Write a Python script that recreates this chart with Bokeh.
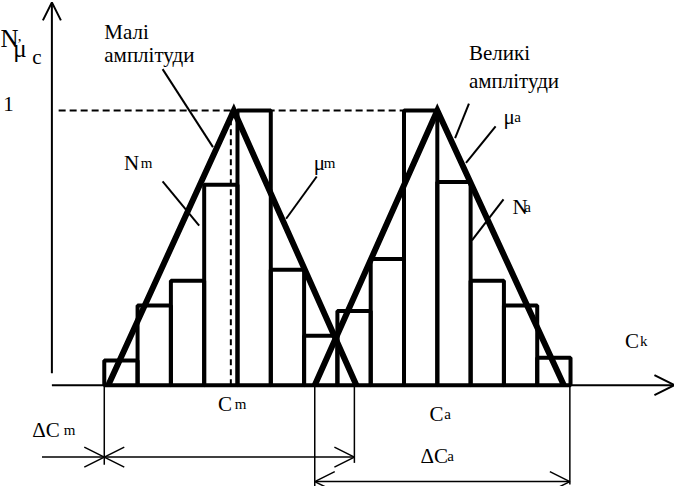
from bokeh.plotting import figure
from bokeh.models import Range1d, Arrow, OpenHead
from bokeh.embed import file_html
from bokeh.resources import INLINE
from bokeh.core.properties import value

# ---- data (x: class-interval units, y: relative frequency / membership) ----
bins_m = [0, 1, 2, 3, 4, 5, 6]
freq_m = [0.09, 0.29, 0.38, 0.73, 1.0, 0.42, 0.18]
bins_a = [7, 8, 9, 10, 11, 12, 13]
freq_a = [0.27, 0.46, 1.0, 0.74, 0.38, 0.29, 0.10]

tri_m_x = [0.12, 3.89, 7.57]      # membership function, small amplitudes
tri_a_x = [6.32, 10.0, 13.8]      # membership function, large amplitudes
tri_y = [0, 1, 0]

C_m = 3.8
C_a = 10.0
peak = 1.0

# dimension (spread) intervals
dC_m = [0.0, 7.51]
dC_a = [6.32, 13.98]

# labels (text, x, y) grouped by size
big_txt = ["N", "μ"]
big_x = [-3.116, -2.73]
big_y = [1.262, 1.226]

main_txt = ["Малі", "амплітуди", "Великі", "амплітуди", "N", "μ", "μ", "N",
            "C", "ΔC", "C", "ΔC", "C", "1", "c"]
main_x = [0.0, 0.0, 10.95, 10.95, 0.593, 6.29, 11.99, 12.255,
          3.412, -2.166, 9.763, 9.496, 15.638, -3.03, -2.166]
main_y = [1.287, 1.201, 1.208, 1.108, 0.810, 0.810, 0.975, 0.649,
          -0.068, -0.165, -0.104, -0.258, 0.161, 1.025, 1.197]

sub_txt = ["m", "m", "a", "a", "m", "m", "a", "a", "k", ","]
sub_x = [1.098, 6.59, 12.31, 12.61, 3.917, -1.217, 10.208, 10.297, 16.083, -2.60]
sub_y = [0.810, 0.810, 0.975, 0.649, -0.068, -0.165, -0.104, -0.258, 0.161, 1.272]

p = figure(width=674, height=486, x_range=Range1d(-3.116, 17.122),
           y_range=Range1d(-0.369, 1.401), output_backend="svg",
           toolbar_location=None, min_border=0,
           x_axis_type=None, y_axis_type=None)
p.outline_line_alpha = 0

p.text(x=big_x, y=big_y, text=big_txt, text_font=value("Liberation Serif"),
       text_font_size="25px", text_baseline="alphabetic", text_color="black")
p.text(x=main_x, y=main_y, text=main_txt, text_font=value("Liberation Serif"),
       text_font_size="21px", text_baseline="alphabetic", text_color="black")
p.text(x=sub_x, y=sub_y, text=sub_txt, text_font=value("Liberation Serif"),
       text_font_size="15px", text_baseline="alphabetic", text_color="black")

# reference dashed lines
p.line([-1.37, 9.0], [peak, peak], line_color="black", line_width=2, line_dash="7 4")
p.line([C_m, C_m], [0, peak], line_color="black", line_width=2, line_dash="6 4")
p.line([C_a, C_a], [0, peak], line_color="black", line_width=2, line_dash="6 4")

# histograms
p.quad(left=bins_m, right=[b + 1 for b in bins_m], bottom=0, top=freq_m,
       fill_alpha=0, line_color="black", line_width=4)
p.quad(left=bins_a, right=[b + 1 for b in bins_a], bottom=0, top=freq_a,
       fill_alpha=0, line_color="black", line_width=4)

# membership triangles
p.line(tri_m_x, tri_y, line_color="black", line_width=6, line_join="miter")
p.line(tri_a_x, tri_y, line_color="black", line_width=6, line_join="miter")

# axes
p.add_layout(Arrow(end=OpenHead(size=18, line_width=2), x_start=-1.573, y_start=0.043,
                   x_end=-1.573, y_end=1.394, line_width=2))
p.add_layout(Arrow(end=OpenHead(size=20, line_width=2), x_start=-1.573, y_start=0,
                   x_end=17.12, y_end=0, line_width=2))

# extension lines
ext_x = [dC_m[0], dC_a[0], dC_m[1], dC_a[1]]
ext_y = [-0.29, -0.369, -0.283, -0.362]
p.multi_line(xs=[[x, x] for x in ext_x], ys=[[0, y] for y in ext_y],
             line_color="black", line_width=1.5)

# dimension arrows
y1 = -0.262
y2 = -0.351
p.add_layout(Arrow(end=OpenHead(size=20, line_width=1.5), x_start=-1.87, y_start=y1,
                   x_end=dC_m[0], y_end=y1, line_width=1.5))
p.add_layout(Arrow(start=OpenHead(size=20, line_width=1.5), end=OpenHead(size=20, line_width=1.5),
                   x_start=dC_m[0], y_start=y1, x_end=dC_m[1], y_end=y1, line_width=1.5))
p.add_layout(Arrow(start=OpenHead(size=20, line_width=1.5), end=OpenHead(size=20, line_width=1.5),
                   x_start=dC_a[0], y_start=y2, x_end=dC_a[1], y_end=y2, line_width=1.5))

# leader lines
ptr_x0 = [1.751, 1.751, 6.380, 10.950, 11.751, 11.988]
ptr_y0 = [1.151, 0.742, 0.760, 1.025, 0.943, 0.677]
ptr_x1 = [3.264, 2.849, 5.460, 10.534, 10.861, 11.039]
ptr_y1 = [0.867, 0.581, 0.606, 0.900, 0.810, 0.527]
p.multi_line(xs=[[a, b] for a, b in zip(ptr_x0, ptr_x1)],
             ys=[[a, b] for a, b in zip(ptr_y0, ptr_y1)],
             line_color="black", line_width=2)

open("out.html", "w").write(file_html(p, INLINE))
